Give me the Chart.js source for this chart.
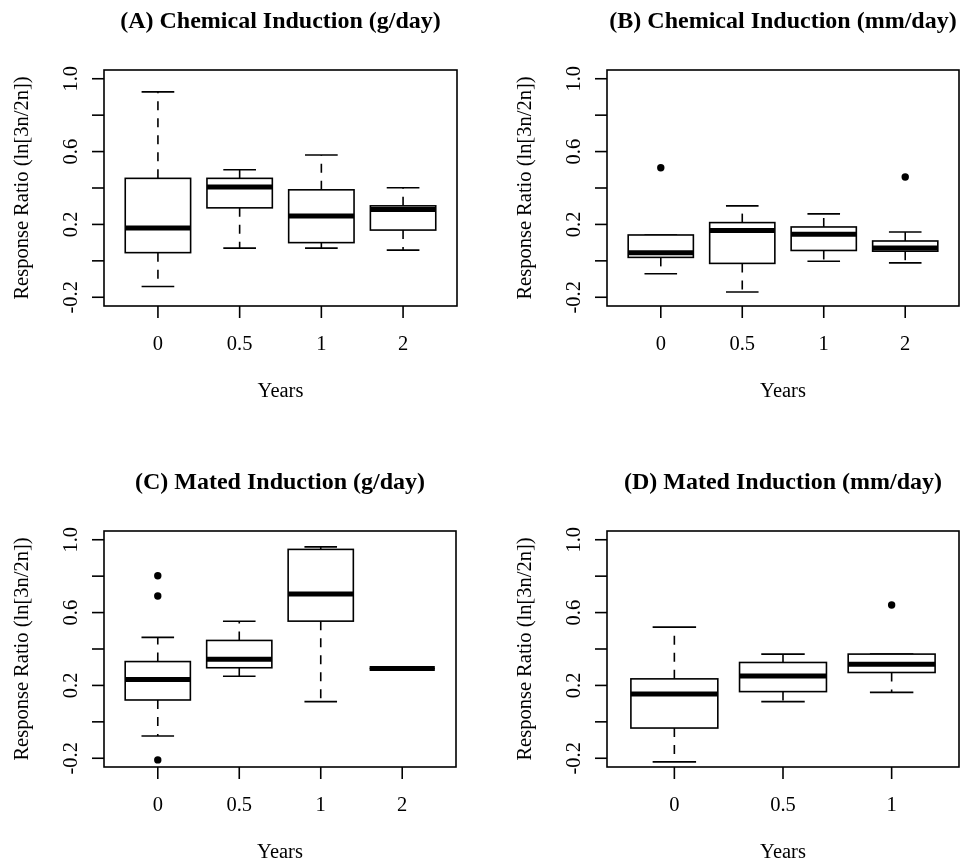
<!DOCTYPE html>
<html>
<head>
<meta charset="utf-8">
<title>Response ratio boxplots</title>
<script src="https://cdn.jsdelivr.net/npm/chart.js@4.4.1/dist/chart.umd.min.js"></script>
<style>
  body { margin: 0; background: #fff; }
  #wrap { position: relative; width: 963px; height: 865px; background: #fff; }
  #wrap canvas { position: absolute; }
</style>
</head>
<body>
<div id="wrap">
  <canvas id="panelA" width="460" height="404" style="left:0px;top:0px"></canvas>
  <canvas id="panelB" width="460" height="404" style="left:503px;top:0px"></canvas>
  <canvas id="panelC" width="460" height="404" style="left:0px;top:461px"></canvas>
  <canvas id="panelD" width="460" height="404" style="left:503px;top:461px"></canvas>
</div>
<script>
const yearsFour = ['0', '0.5', '1', '2'];
const yearsThree = ['0', '0.5', '1'];

const yTicks = [-0.2, 0, 0.2, 0.4, 0.6, 0.8, 1.0];
const yTickLabels = ['-0.2', '', '0.2', '', '0.6', '', '1.0'];

// (A) chemical induction, g/day
const chemGLow = [-0.141, 0.07, 0.07, 0.059];
const chemGQ1 = [0.045, 0.291, 0.10, 0.169];
const chemGMed = [0.18, 0.405, 0.246, 0.282];
const chemGQ3 = [0.453, 0.453, 0.39, 0.302];
const chemGHigh = [0.928, 0.50, 0.581, 0.401];
const chemGOut = [[], [], [], []];

// (B) chemical induction, mm/day
const chemMLow = [-0.071, -0.171, -0.002, -0.011];
const chemMQ1 = [0.019, -0.014, 0.057, 0.053];
const chemMMed = [0.045, 0.166, 0.146, 0.07];
const chemMQ3 = [0.142, 0.21, 0.186, 0.109];
const chemMHigh = [0.142, 0.302, 0.258, 0.158];
const chemMOut = [[0.511], [], [], [0.46]];

// (C) mated induction, g/day
const matedGLow = [-0.078, 0.25, 0.111, 0.293];
const matedGQ1 = [0.12, 0.297, 0.553, 0.293];
const matedGMed = [0.232, 0.344, 0.702, 0.293];
const matedGQ3 = [0.331, 0.447, 0.947, 0.293];
const matedGHigh = [0.464, 0.552, 0.961, 0.293];
const matedGOut = [[0.802, 0.691, -0.209], [], [], []];

// (D) mated induction, mm/day
const matedMLow = [-0.22, 0.111, 0.162];
const matedMQ1 = [-0.034, 0.166, 0.271];
const matedMMed = [0.153, 0.252, 0.316];
const matedMQ3 = [0.236, 0.326, 0.372];
const matedMHigh = [0.52, 0.372, 0.372];
const matedMOut = [[], [], [0.642]];

const serif = '"Liberation Serif", "Times New Roman", serif';

function line(ctx, x1, y1, x2, y2) {
    ctx.beginPath();
    ctx.moveTo(x1, y1);
    ctx.lineTo(x2, y2);
    ctx.stroke();
}

function makePanel(id, title, cats, low, q1, med, q3, high, out) {
    const n = cats.length;
    const points = [];
    out.forEach((vals, i) => vals.forEach(v => points.push({ x: i + 1, y: v })));

    const boxes = {
        id: 'rBoxes',
        beforeDatasetsDraw(chart) {
            const ctx = chart.ctx;
            const xs = chart.scales.x;
            const ys = chart.scales.y;
            ctx.save();
            ctx.strokeStyle = '#000';
            ctx.lineCap = 'butt';
            for (let i = 0; i < n; i++) {
                const xc = xs.getPixelForValue(i + 1);
                const xl = xs.getPixelForValue(i + 1 - 0.4);
                const xr = xs.getPixelForValue(i + 1 + 0.4);
                const sl = xs.getPixelForValue(i + 1 - 0.2);
                const sr = xs.getPixelForValue(i + 1 + 0.2);
                const yLo = ys.getPixelForValue(low[i]);
                const yQ1 = ys.getPixelForValue(q1[i]);
                const yMed = ys.getPixelForValue(med[i]);
                const yQ3 = ys.getPixelForValue(q3[i]);
                const yHi = ys.getPixelForValue(high[i]);

                ctx.lineWidth = 1.6;
                ctx.setLineDash([9, 8]);
                if (yHi < yQ3) line(ctx, xc, yQ3, xc, yHi);
                if (yLo > yQ1) line(ctx, xc, yQ1, xc, yLo);
                ctx.setLineDash([]);
                line(ctx, sl, yHi, sr, yHi);
                line(ctx, sl, yLo, sr, yLo);

                ctx.fillStyle = '#fff';
                ctx.fillRect(xl, yQ3, xr - xl, yQ1 - yQ3);
                ctx.strokeRect(xl, yQ3, xr - xl, yQ1 - yQ3);

                ctx.lineWidth = 5;
                line(ctx, xl, yMed, xr, yMed);
            }
            ctx.restore();
        },
        afterDraw(chart) {
            const ctx = chart.ctx;
            const area = chart.chartArea;
            const xs = chart.scales.x;
            const ys = chart.scales.y;
            const midX = (area.left + area.right) / 2;
            const midY = (area.top + area.bottom) / 2;
            ctx.save();
            ctx.strokeStyle = '#000';
            ctx.fillStyle = '#000';
            ctx.lineWidth = 1.6;
            ctx.strokeRect(area.left, area.top, area.right - area.left, area.bottom - area.top);

            // x axis
            ctx.font = '20.5px ' + serif;
            ctx.textAlign = 'center';
            ctx.textBaseline = 'middle';
            cats.forEach((c, i) => {
                const px = xs.getPixelForValue(i + 1);
                line(ctx, px, area.bottom, px, area.bottom + 12);
                ctx.fillText(c, px, area.bottom + 39);
            });
            ctx.fillText('Years', midX, area.bottom + 86);

            // y axis
            yTicks.forEach((t, i) => {
                const py = ys.getPixelForValue(t);
                line(ctx, area.left - 12, py, area.left, py);
                if (yTickLabels[i]) {
                    ctx.save();
                    ctx.translate(area.left - 32, py);
                    ctx.rotate(-Math.PI / 2);
                    ctx.fillText(yTickLabels[i], 0, 0);
                    ctx.restore();
                }
            });
            ctx.save();
            ctx.translate(23, midY);
            ctx.rotate(-Math.PI / 2);
            ctx.fillText('Response Ratio (ln[3n/2n])', 0, 0);
            ctx.restore();

            ctx.font = 'bold 24px ' + serif;
            ctx.fillText(title, midX, 22);
            ctx.restore();
        }
    };

    const ctx = document.getElementById(id).getContext('2d');
    return new Chart(ctx, {
        type: 'scatter',
        data: {
            datasets: [{
                label: 'outliers',
                data: points,
                pointRadius: 3.7,
                pointBackgroundColor: '#000',
                pointBorderWidth: 0,
                clip: false
            }]
        },
        options: {
            responsive: false,
            animation: false,
            events: [],
            layout: { padding: { left: 104, right: 3, top: 70, bottom: 98 } },
            scales: {
                x: { type: 'linear', min: 0.5 - 0.04 * n, max: n + 0.5 + 0.04 * n, display: false },
                y: { type: 'linear', min: -0.248, max: 1.048, display: false }
            },
            plugins: {
                legend: { display: false },
                tooltip: { enabled: false }
            }
        },
        plugins: [boxes]
    });
}

makePanel('panelA', '(A) Chemical Induction (g/day)', yearsFour,
    chemGLow, chemGQ1, chemGMed, chemGQ3, chemGHigh, chemGOut);
makePanel('panelB', '(B) Chemical Induction (mm/day)', yearsFour,
    chemMLow, chemMQ1, chemMMed, chemMQ3, chemMHigh, chemMOut);
makePanel('panelC', '(C) Mated Induction (g/day)', yearsFour,
    matedGLow, matedGQ1, matedGMed, matedGQ3, matedGHigh, matedGOut);
makePanel('panelD', '(D) Mated Induction (mm/day)', yearsThree,
    matedMLow, matedMQ1, matedMMed, matedMQ3, matedMHigh, matedMOut);
</script>
</body>
</html>
